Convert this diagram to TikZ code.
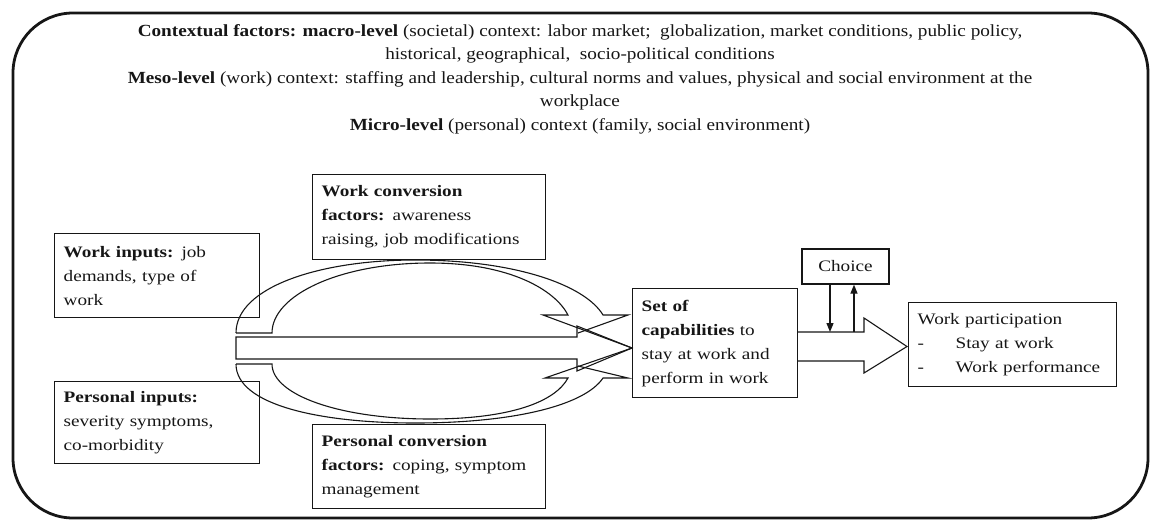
\documentclass[tikz,border=0pt]{standalone}
\usepackage{fontspec}
\setmainfont{Liberation Serif}
\newfontfamily\cfboxfont[FakeStretch=1.2]{Liberation Serif}
\newfontfamily\cfctxfont[FakeStretch=1.13]{Liberation Serif}
\usetikzlibrary{arrows.meta}
\definecolor{cfink}{HTML}{161616}
\tikzset{
  cf text/.style={text=cfink},
  cf frame/.style={draw=cfink, line width=2.8pt, rounded corners=60pt},
  cf box/.style={draw=cfink, line width=1.3pt, anchor=north west, align=left,
    inner xsep=9pt, inner ysep=0pt, font=\cfboxfont\fontsize{16}{24}\selectfont},
  cf band/.style={draw=cfink, line width=1.1pt},
  cf arrow/.style={-{Triangle[length=9pt,width=7pt]}, draw=cfink, line width=1.3pt},
  cf context/.style={align=center, font=\cfctxfont\fontsize{17}{23.5}\selectfont}
}
\begin{document}
\begin{tikzpicture}[cf text, x=1pt, y=-1pt]
  \useasboundingbox (0,0) rectangle (1151,522);
  \draw[cf frame] (13,13) rectangle (1148,518);
  % context levels
  \node[cf context] (ctx) at (580,79) {%
    \textbf{Contextual factors: macro-level} (societal) context: labor market;\ \ globalization, market conditions, public policy,\\
    historical, geographical,\ \ socio-political conditions\\
    \textbf{Meso-level} (work) context: staffing and leadership, cultural norms and values, physical and social environment at the\\
    workplace\\
    \textbf{Micro-level} (personal) context (family, social environment)};
  % inputs and conversion factors
  \node[cf box, text width=187pt, minimum height=84pt] (workin) at (54,233)
    {\textbf{Work inputs:} job\\demands, type of\\work};
  \node[cf box, text width=187pt, minimum height=82pt] (persin) at (54,381)
    {\textbf{Personal inputs:}\\severity symptoms,\\co-morbidity};
  \node[cf box, text width=215pt, minimum height=85pt] (workconv) at (312,174)
    {\textbf{Work conversion}\\\textbf{factors:} awareness\\raising, job modifications};
  \node[cf box, text width=215pt, minimum height=84pt] (persconv) at (312,424)
    {\textbf{Personal conversion}\\\textbf{factors:} coping, symptom\\management};
  \node[cf box, text width=147pt, minimum height=109pt] (capab) at (632,288)
    {\textbf{Set of}\\\textbf{capabilities} to\\stay at work and\\perform in work};
  \node[cf box, anchor=center, align=center, minimum width=87pt, minimum height=35pt] (choice) at (845.5,266.5) {Choice};
  \node[cf box, text width=190pt, minimum height=84pt] (partic) at (908,302)
    {Work participation\\\makebox[38pt][l]{-}Stay at work\\\makebox[38pt][l]{-}Work performance};
  % main block arrow
  \draw[cf band] (236,337) -- (577,337) -- (577,326) -- (632,348) -- (577,371) -- (577,359) -- (236,359) -- cycle;
  % upper curved arrow
  \draw[cf band] (236,333) -- (272,333)
    .. controls (272,295) and (340,263) .. (430,263)
    .. controls (510,263) and (555,290) .. (568,315) -- (543,315) -- (632,348);
  \draw[cf band] (236,333) .. controls (236,287) and (320,260) .. (415,260)
    .. controls (515,260) and (585,285) .. (603,315) -- (628,315) -- (578,333);
  % lower curved arrow
  \draw[cf band] (236,364) -- (272,364)
    .. controls (272,395) and (340,419) .. (430,419)
    .. controls (510,419) and (555,402) .. (568,378) -- (545,378) -- (632,348);
  \draw[cf band] (236,364) .. controls (236,405) and (320,423) .. (415,423)
    .. controls (515,423) and (585,405) .. (603,378) -- (628,378) -- (578,366);
  % capabilities to participation
  \coordinate (shafttop) at (797,332);
  \draw[cf band] (shafttop) -- (864,332) -- (864,318) -- (907,346.5) -- (864,373) -- (864,361) -- (797,361);
  \draw[cf arrow] (choice.south -| 830,0) -- (shafttop -| 830,0);
  \draw[cf arrow] (shafttop -| 854,0) -- (choice.south -| 854,0);
\end{tikzpicture}
\end{document}
